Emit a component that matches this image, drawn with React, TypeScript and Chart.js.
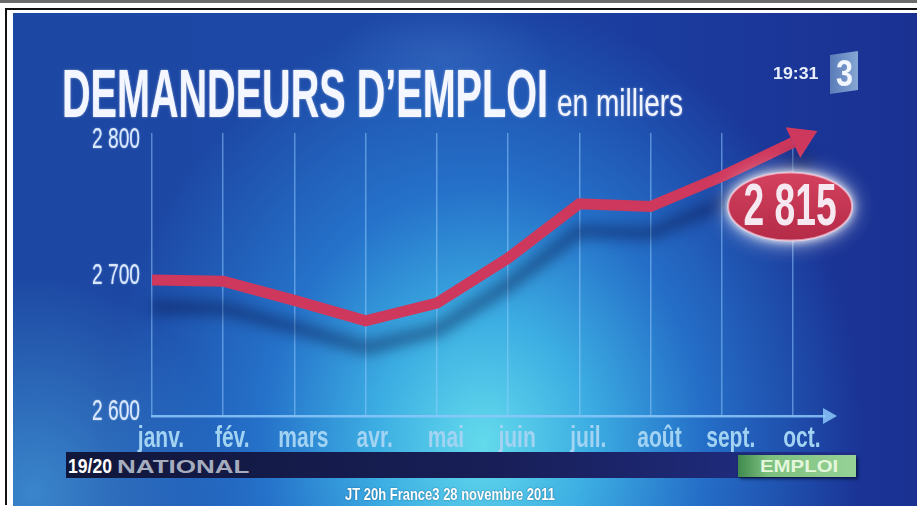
import React, { useEffect, useLayoutEffect, useRef, useState } from 'react';
import { Chart, registerables } from 'chart.js';

Chart.register(...registerables);

// ---- data ----
const months = ['janv.', 'fév.', 'mars', 'avr.', 'mai', 'juin', 'juil.', 'août', 'sept.', 'oct.'];
const jobSeekers = [2697, 2696, 2682, 2667, 2680, 2713, 2753, 2751, 2773, 2798];
const yTickValues = [2600, 2700, 2800];
const latestLabel = '2 815';
const latestBadgeAt = { x: 8.96, y: 2751 };

const FONT = '"Liberation Sans", Arial, sans-serif';
const LINE = '#cf385d';

function fmt(v: number) {
  return `${Math.floor(v / 1000)} ${String(v % 1000).padStart(3, '0')}`;
}

function condensed(ctx: CanvasRenderingContext2D, text: string, x: number, y: number, sx: number, align: CanvasTextAlign) {
  ctx.save();
  ctx.translate(x, y);
  ctx.scale(sx, 1);
  ctx.textAlign = align;
  ctx.fillText(text, 0, 0);
  ctx.restore();
}

const decor = {
  id: 'decor',
  beforeDatasetsDraw(chart: any) {
    const ctx = chart.ctx;
    ctx.save();
    ctx.shadowColor = 'rgba(8,18,70,0.55)';
    ctx.shadowBlur = 14;
    ctx.shadowOffsetY = 27;
  },
  afterDatasetsDraw(chart: any) {
    const ctx = chart.ctx;
    const pts = chart.getDatasetMeta(0).data;
    const a = pts[pts.length - 2];
    const b = pts[pts.length - 1];
    const dx = b.x - a.x;
    const dy = b.y - a.y;
    const len = Math.hypot(dx, dy);
    const ux = dx / len, uy = dy / len;
    const nx = -uy, ny = ux;
    const hw = 17, hl = 27;
    ctx.beginPath();
    ctx.moveTo(b.x + nx * hw, b.y + ny * hw);
    ctx.lineTo(b.x + ux * hl, b.y + uy * hl);
    ctx.lineTo(b.x - nx * hw, b.y - ny * hw);
    ctx.closePath();
    ctx.fillStyle = LINE;
    ctx.fill();
    ctx.restore();
  },
  afterDraw(chart: any) {
    const ctx: CanvasRenderingContext2D = chart.ctx;
    const area = chart.chartArea;
    const xs = chart.scales.x;
    const ys = chart.scales.y;

    // x-axis arrow
    ctx.save();
    ctx.fillStyle = 'rgba(140,200,250,0.85)';
    ctx.beginPath();
    ctx.moveTo(area.right - 2, area.bottom - 8);
    ctx.lineTo(area.right + 12, area.bottom);
    ctx.lineTo(area.right - 2, area.bottom + 8);
    ctx.closePath();
    ctx.fill();
    ctx.restore();

    // y labels
    ctx.save();
    ctx.font = `30px ${FONT}`;
    ctx.fillStyle = '#dbe9ff';
    ctx.textBaseline = 'middle';
    ctx.shadowColor = 'rgba(200,225,255,0.6)';
    ctx.shadowBlur = 2;
    ys.ticks.forEach((t: any) => {
      const py = ys.getPixelForValue(t.value);
      condensed(ctx, fmt(t.value), area.left - 12, py, 0.64, 'right');
    });
    ctx.restore();

    // x labels
    ctx.save();
    ctx.font = `bold 30px ${FONT}`;
    ctx.fillStyle = '#a3d3f2';
    ctx.textBaseline = 'alphabetic';
    ctx.filter = 'blur(0.7px)';
    xs.ticks.forEach((t: any) => {
      const i = t.value;
      if (!Number.isInteger(i) || !months[i]) return;
      const px = xs.getPixelForValue(i) + 9;
      condensed(ctx, months[i], px, area.bottom + 31, 0.7, 'center');
    });
    ctx.restore();

    // latest value badge
    const cx = xs.getPixelForValue(latestBadgeAt.x);
    const cy = ys.getPixelForValue(latestBadgeAt.y);
    ctx.save();
    ctx.beginPath();
    ctx.ellipse(cx, cy, 62, 34, 0, 0, Math.PI * 2);
    const g = ctx.createLinearGradient(0, cy - 34, 0, cy + 34);
    g.addColorStop(0, '#d4425f');
    g.addColorStop(1, '#b42a47');
    ctx.fillStyle = g;
    ctx.shadowColor = 'rgba(255,255,255,0.95)';
    ctx.shadowBlur = 22;
    ctx.fill();
    ctx.shadowBlur = 8;
    ctx.fill();
    ctx.shadowBlur = 0;
    ctx.lineWidth = 2;
    ctx.strokeStyle = 'rgba(255,220,235,0.6)';
    ctx.stroke();
    ctx.font = `bold 60px ${FONT}`;
    ctx.fillStyle = '#f6e8f0';
    ctx.textBaseline = 'middle';
    condensed(ctx, latestLabel, cx, cy + 2, 0.62, 'center');
    ctx.restore();
  },
};

function Fit(props: { text: string; left: number; top: number; width: number; style: React.CSSProperties }) {
  const ref = useRef<HTMLSpanElement>(null);
  const [sx, setSx] = useState(1);
  useLayoutEffect(() => {
    if (ref.current) {
      const w = ref.current.offsetWidth;
      if (w > 0) setSx(props.width / w);
    }
  }, [props.text, props.width]);
  return (
    <span
      ref={ref}
      style={{
        position: 'absolute',
        left: props.left,
        top: props.top,
        whiteSpace: 'nowrap',
        transformOrigin: '0 0',
        transform: `scaleX(${sx})`,
        lineHeight: 1,
        fontFamily: FONT,
        ...props.style,
      }}
    >
      {props.text}
    </span>
  );
}

export default function App() {
  const canvasRef = useRef<HTMLCanvasElement>(null);

  useEffect(() => {
    if (!canvasRef.current) return;
    const chart = new Chart(canvasRef.current, {
      type: 'line',
      data: {
        datasets: [
          {
            data: jobSeekers.map((v, i) => ({ x: i, y: v })),
            borderColor: LINE,
            borderWidth: 11,
            pointRadius: 0,
            tension: 0,
            clip: false as any,
            borderJoinStyle: 'miter',
            borderCapStyle: 'butt',
            fill: false,
          },
        ],
      },
      options: {
        responsive: false,
        animation: false,
        events: [],
        layout: { padding: { left: 0, right: 92, top: 133, bottom: 0 } },
        plugins: { legend: { display: false }, tooltip: { enabled: false } },
        scales: {
          x: {
            type: 'linear',
            min: 0,
            max: 9.45,
            afterFit: (s: any) => { s.height = 90; },
            ticks: { display: false, stepSize: 1, includeBounds: false },
            grid: { color: 'rgba(150,205,255,0.5)', lineWidth: 1.5, drawTicks: false },
            border: { display: true, color: 'rgba(140,200,250,0.85)', width: 2.5 },
          },
          y: {
            type: 'linear',
            min: 2597,
            max: 2805,
            afterFit: (s: any) => { s.width = 152; },
            ticks: { display: false, stepSize: 100, includeBounds: false },
            afterBuildTicks: (s: any) => { s.ticks = yTickValues.map((v) => ({ value: v })); },
            grid: { display: false },
            border: { display: false },
          },
        },
      },
      plugins: [decor],
    });
    return () => chart.destroy();
  }, []);

  return (
    <div style={{ position: 'absolute', left: 0, top: 0, width: 917, height: 506, background: '#fff', overflow: 'hidden' }}>
      <div style={{ position: 'absolute', left: 0, top: 0, width: 917, height: 3, background: '#6b6b6b' }} />
      <div style={{ position: 'absolute', left: 5, top: 8, width: 912, height: 495, borderLeft: '2px solid #111', borderTop: '2px solid #111' }} />
      <div
        style={{
          position: 'absolute',
          left: 13,
          top: 13,
          width: 904,
          height: 493,
          background:
            'radial-gradient(ellipse 110px 55px at 430px 45px, rgba(80,130,210,0.3), rgba(80,130,210,0) 100%),' +
            'radial-gradient(ellipse 380px 440px at 470px 430px, rgba(100,218,236,1) 0%, rgba(62,180,230,0.95) 28%, rgba(40,128,214,0.75) 58%, rgba(30,80,190,0) 100%),' +
            'radial-gradient(ellipse 200px 220px at 20px 480px, rgba(70,160,220,0.7), rgba(70,160,220,0) 100%),' +
            'linear-gradient(to right, #1c47a2 0%, #1d48a6 40%, #1b3c9e 70%, #1a3192 100%)',
        }}
      />
      <canvas ref={canvasRef} width={917} height={506} style={{ position: 'absolute', left: 0, top: 0, width: 917, height: 506 }} />

      <Fit text="DEMANDEURS D’EMPLOI" left={62} top={59} width={486}
        style={{ fontSize: 68, fontWeight: 'bold', color: '#f4f7ff', textShadow: '0 0 3px rgba(255,255,255,0.55)' }} />
      <Fit text="en milliers" left={557} top={84} width={126}
        style={{ fontSize: 38, color: '#f0f4ff', textShadow: '0 0 3px rgba(255,255,255,0.5)' }} />

      <Fit text="19:31" left={773} top={65} width={45} style={{ fontSize: 17, fontWeight: 'bold', color: '#e8eef8' }} />
      <div style={{ position: 'absolute', left: 830, top: 53, width: 28, height: 39, background: 'linear-gradient(to right, #5a7cb8, #86a6d4)', transform: 'skewY(-8deg)' }} />
      <Fit text="3" left={836} top={56} width={17} style={{ fontSize: 36, fontWeight: 'bold', color: '#f2f6ff' }} />

      <div style={{ position: 'absolute', left: 66, top: 452, width: 790, height: 26, background: 'linear-gradient(to right, #11173a, #181f58 55%, #22308c)' }} />
      <Fit text="19/20" left={68} top={456} width={44} style={{ fontSize: 20, fontWeight: 'bold', color: '#ffffff' }} />
      <Fit text="NATIONAL" left={117} top={458} width={133} style={{ fontSize: 18, fontWeight: 'bold', color: '#a4acbd' }} />
      <div style={{ position: 'absolute', left: 738, top: 455, width: 118, height: 22, background: 'linear-gradient(to right, #3f8a4e, #7cc07e 25%, #96d296)', boxShadow: '2px 2px 3px rgba(0,0,30,0.6)' }} />
      <Fit text="EMPLOI" left={760} top={458} width={78} style={{ fontSize: 17, fontWeight: 'bold', color: '#e4f6dc' }} />

      <Fit text="JT 20h France3 28 novembre 2011" left={345} top={486} width={210}
        style={{ fontSize: 17, fontWeight: 'bold', color: '#ffffff', textShadow: '0 0 2px rgba(0,40,80,0.6)' }} />
    </div>
  );
}
